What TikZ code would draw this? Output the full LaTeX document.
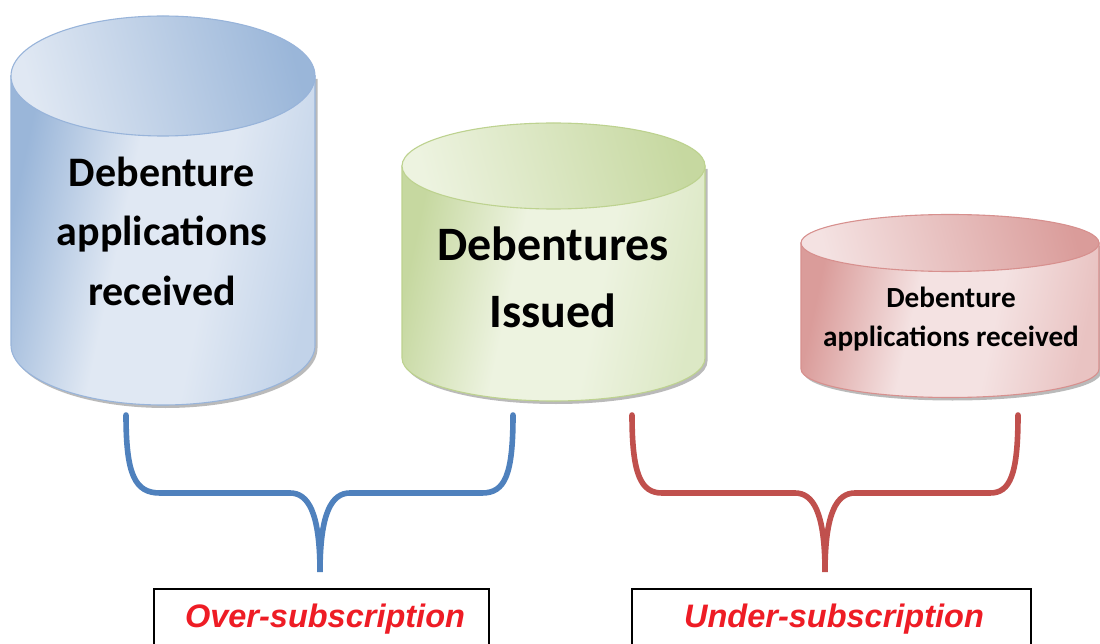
\documentclass[tikz,border=0pt]{standalone}
\usepackage{fontspec}
\setmainfont{Carlito}
\newfontfamily\labfont{Liberation Sans}
\definecolor{blight}{HTML}{E0E8F3}
\definecolor{bdark}{HTML}{9AB6D9}
\definecolor{bmid}{HTML}{C2D3E9}
\definecolor{bedge}{HTML}{98B4DA}
\definecolor{glight}{HTML}{EDF3E0}
\definecolor{gdark}{HTML}{C6D8A0}
\definecolor{gmid}{HTML}{DCE8C5}
\definecolor{gedge}{HTML}{BDD28F}
\definecolor{rlight}{HTML}{F4E2E2}
\definecolor{rdark}{HTML}{DA9C9A}
\definecolor{rmid}{HTML}{E9C3C2}
\definecolor{redge}{HTML}{D7908E}
\definecolor{bracb}{HTML}{4F81BD}
\definecolor{bracr}{HTML}{C0504D}
\definecolor{labred}{HTML}{EE1C25}
\pgfdeclarehorizontalshading{bbody}{100bp}{color(0bp)=(bdark); color(25bp)=(bdark); color(43bp)=(blight); color(58bp)=(blight); color(75bp)=(bmid); color(100bp)=(bmid)}
\pgfdeclarehorizontalshading{gbody}{100bp}{color(0bp)=(gdark); color(25bp)=(gdark); color(43bp)=(glight); color(58bp)=(glight); color(75bp)=(gmid); color(100bp)=(gmid)}
\pgfdeclarehorizontalshading{rbody}{100bp}{color(0bp)=(rdark); color(25bp)=(rdark); color(43bp)=(rlight); color(58bp)=(rlight); color(75bp)=(rmid); color(100bp)=(rmid)}
\newcommand{\cylshape}[9]{% xl xr ytop ybot ry light dark edge bodyshading
  \pgfmathsetmacro\cx{(#1+#2)/2}%
  \pgfmathsetmacro\rx{(#2-#1)/2}%
  \pgfmathsetmacro\kx{0.5523*\rx}%
  \pgfmathsetmacro\ky{0.5523*#5}%
  \pgfmathsetmacro\yb{#4+#5}%
  \fill[black!38,opacity=.7,xshift=2.5pt,yshift=-3pt]
    (#1,#4) .. controls (#1,#4+\ky) and (\cx-\kx,\yb) .. (\cx,\yb)
    .. controls (\cx+\kx,\yb) and (#2,#4+\ky) .. (#2,#4) -- (#2,#3) -- (#1,#3) -- cycle;
  \shade[shading=#9, shading angle=-12, draw=#8, line width=1.1pt]
    (#1,#4) .. controls (#1,#4+\ky) and (\cx-\kx,\yb) .. (\cx,\yb)
    .. controls (\cx+\kx,\yb) and (#2,#4+\ky) .. (#2,#4) -- (#2,#3) -- (#1,#3) -- cycle;
  \shade[left color=#6, right color=#7, shading angle=105, draw=#8, line width=1.1pt]
    (\cx,#3) ellipse [x radius=\rx, y radius=#5];
}
\tikzset{
  cyltext/.style={align=center, text=black},
  labbox/.style={draw=black, line width=1.6pt, fill=white, minimum width=#1, minimum height=90pt, anchor=north, inner sep=0pt},
  labtext/.style={text=labred, font=\labfont\bfseries\itshape\fontsize{32.5}{36}\selectfont},
  brace/.style={line width=5.6pt, line cap=round}
}
\begin{document}
\begin{tikzpicture}[x=1pt,y=-1pt]
\clip (0,0) rectangle (1100,644);
\fill[white] (0,0) rectangle (1100,644);
% cylinders
\cylshape{11}{315}{76}{345}{60}{blight}{bdark}{bedge}{bbody}
\cylshape{402}{705}{166}{358}{43}{glight}{gdark}{gedge}{gbody}
\cylshape{801}{1099}{243}{369}{28.5}{rlight}{rdark}{redge}{rbody}
\node[cyltext, font=\bfseries\fontsize{42}{59.5}\selectfont] (c1) at (162,231) {Debenture\\applications\\received};
\node[cyltext, font=\bfseries\fontsize{48}{67}\selectfont] (c2) at (553,277) {Debentures\\Issued};
\node[cyltext, font=\bfseries\fontsize{29.2}{39}\selectfont] (c3) at (951,319) {Debenture\\applications received};
% label boxes
\node[labbox=335pt] (ob) at (321.5,588) {};
\node[labbox=399pt] (ub) at (831.5,588) {};
\node[labtext] (ot) at (325,619) {Over-subscription};
\node[labtext] (ut) at (834,619) {Under-subscription};
% brace end points
\coordinate (b1l) at (126,415);
\coordinate (b1r) at (513,415);
\coordinate (b1t) at (320,572);
\coordinate (b2l) at (632,415);
\coordinate (b2r) at (1018,415);
\coordinate (b2t) at (825,572);
\draw[brace, draw=bracb] (b1l) .. controls (126,475) and (135,493) .. (160,493) -- (290,493)
  .. controls (308,493) and (320,512) .. (b1t)
  .. controls (320,512) and (332,493) .. (350,493) -- (482,493)
  .. controls (505,493) and (513,475) .. (b1r);
\draw[brace, draw=bracr] (b2l) .. controls (632,475) and (641,493) .. (662,493) -- (795,493)
  .. controls (813,493) and (825,512) .. (b2t)
  .. controls (825,512) and (837,493) .. (855,493) -- (990,493)
  .. controls (1010,493) and (1018,475) .. (b2r);
\end{tikzpicture}
\end{document}
